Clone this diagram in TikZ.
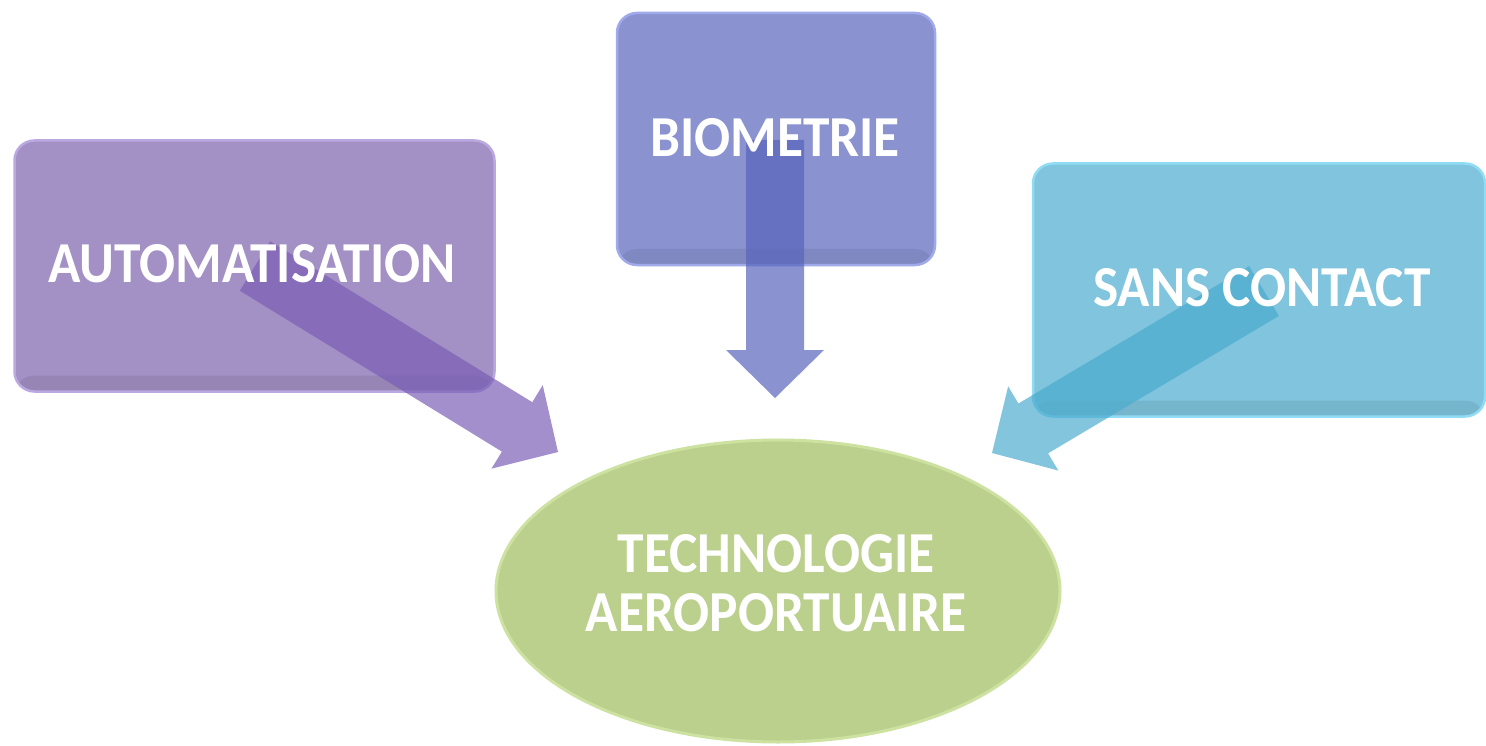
\documentclass[tikz,border=0pt]{standalone}
\usepackage{fontspec}
\setmainfont{Carlito}
\usetikzlibrary{calc,shapes.geometric}
\definecolor{purpbox}{RGB}{163,144,196}
\definecolor{purpedge}{RGB}{186,168,224}
\definecolor{purparrow}{RGB}{121,93,181}
\definecolor{bluebox}{RGB}{138,147,208}
\definecolor{blueedge}{RGB}{160,170,235}
\definecolor{bluearrow}{RGB}{86,99,187}
\definecolor{cyanbox}{RGB}{128,196,221}
\definecolor{cyanedge}{RGB}{145,220,245}
\definecolor{cyanarrow}{RGB}{74,171,206}
\definecolor{greenfill}{RGB}{188,208,142}
\definecolor{greenedge}{RGB}{205,225,160}
\newcommand{\myblockarrow}[3]{%
  \coordinate (#2j) at ($(#2)!48pt!(#1)$);
  \fill[#3, fill opacity=0.69]
    ($(#1)!29pt!90:(#2)$) -- ($(#2j)!29pt!90:(#2)$) -- ($(#2j)!49pt!90:(#2)$) -- (#2)
    -- ($(#2j)!49pt!-90:(#2)$) -- ($(#2j)!29pt!-90:(#2)$) -- ($(#1)!29pt!-90:(#2)$) -- cycle;}
\newcommand{\cond}[1]{\scalebox{0.92}[1]{#1}}
\begin{document}
\begin{tikzpicture}[x=1pt,y=-1pt,
  box/.style={rounded corners=20pt, line width=2.5pt, inner sep=0pt,
    path picture={\fill[black, opacity=0.07]
      ($(path picture bounding box.south west)+(0,-16)$) rectangle (path picture bounding box.south east);}},
  lbl/.style={text=white, font=\fontsize{58}{59}\selectfont\bfseries, inner sep=0pt},
  lblml/.style={lbl, align=center}]
\useasboundingbox (0,0) rectangle (1486,746);
% boxes
\node[box, fill=purpbox, draw=purpedge, minimum width=480pt, minimum height=251pt] (auto) at (254.5,266) {};
\node[box, fill=bluebox, draw=blueedge, minimum width=318pt, minimum height=252pt] (bio) at (776,139) {};
\node[box, fill=cyanbox, draw=cyanedge, minimum width=452pt, minimum height=253pt] (sans) at (1259,290) {};
\node[ellipse, fill=greenfill, draw=greenedge, line width=3pt, minimum width=564pt, minimum height=302pt, inner sep=0pt] (tech) at (778,591) {};
% arrow ends
\coordinate (a1s) at (255,266);
\coordinate (a1e) at (558,452);
\coordinate (a2s) at (775,140);
\coordinate (a2e) at (775,398);
\coordinate (a3s) at (1264,291);
\coordinate (a3e) at (992,453);
\myblockarrow{a1s}{a1e}{purparrow}
\myblockarrow{a2s}{a2e}{bluearrow}
\myblockarrow{a3s}{a3e}{cyanarrow}
% labels
\node[lbl] (autol) at (252,264) {\cond{AUTOMATISATION}};
\node[lbl] (biol) at (775,138) {\cond{BIOMETRIE}};
\node[lbl] (sansl) at (1262,288) {\cond{SANS CONTACT}};
\node[lblml] (techl) at (776,583) {\cond{TECHNOLOGIE}\\\cond{AEROPORTUAIRE}};
\end{tikzpicture}
\end{document}
